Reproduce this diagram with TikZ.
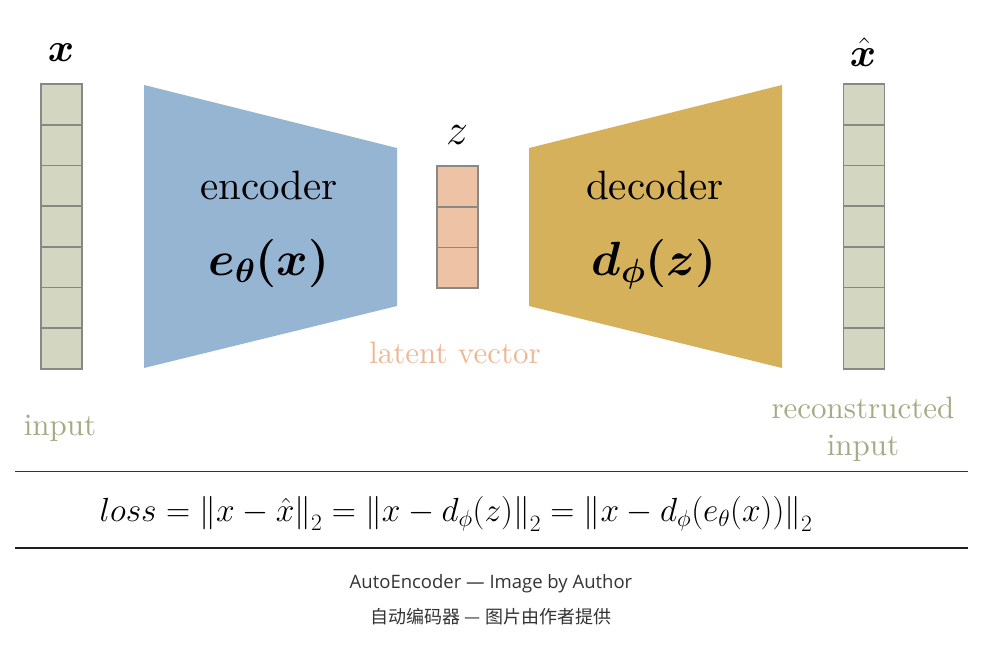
\RequirePackage{fix-cm}
\documentclass[tikz,border=0pt]{standalone}
\usepackage{amsmath,bm}
\usepackage{fontspec}
\setmainfont{lmroman10-regular.otf}[BoldFont=lmroman10-bold.otf, ItalicFont=lmroman10-italic.otf]
\newfontfamily\capfont{Open Sans}
\newfontfamily\cjk{Noto Sans CJK SC}
\definecolor{cellfill}{HTML}{D3D6C0}
\definecolor{cellline}{HTML}{888884}
\definecolor{encblue}{HTML}{95B5D3}
\definecolor{decgold}{HTML}{D6B15C}
\definecolor{latpeach}{HTML}{EEC2A5}
\definecolor{lattext}{HTML}{ECB896}
\definecolor{inptext}{HTML}{A4AB86}
\definecolor{captext}{HTML}{333333}
\tikzset{
  cell/.style={draw=cellline, line width=1.6pt, fill=cellfill, minimum width=41pt, minimum height=40.7pt, inner sep=0pt, outer sep=0pt},
  zcell/.style={cell, fill=latpeach},
  bigword/.style={font=\fontsize{41}{48}\selectfont, anchor=base, inner sep=0pt},
  bigmath/.style={font=\fontsize{48}{54}\selectfont, anchor=base, inner sep=0pt},
  lbl/.style={font=\fontsize{31}{37}\selectfont, anchor=base, inner sep=0pt},
  rule/.style={draw=black!80, line width=1.3pt},
}
\begin{document}
\begin{tikzpicture}[x=1pt,y=-1pt]
\useasboundingbox (0,0) rectangle (990,645);
% input and output columns
\foreach \i in {0,...,6} {
  \node[cell] (in\i) at (61.5, {84+40.7*\i+20.35}) {};
  \node[cell] (out\i) at (864, {84+40.7*\i+20.35}) {};
}
% latent column
\foreach \i in {0,...,2} {
  \node[zcell] (z\i) at (457.5, {166+40.7*\i+20.35}) {};
}
% encoder / decoder trapezoids
\fill[encblue] (144,85) -- (397,148) -- (397,306) -- (144,368) -- cycle;
\fill[decgold] (529,148) -- (782,85) -- (782,368) -- (529,306) -- cycle;
% labels
\node[font=\fontsize{40}{44}\selectfont, anchor=base, inner sep=0pt] (xlbl) at (61,61) {$\bm{x}$};
\node[font=\fontsize{40}{44}\selectfont, anchor=base, inner sep=0pt] (xhatlbl) at (863,66) {$\bm{\hat{x}}$};
\node[font=\fontsize{44}{48}\selectfont, anchor=base, inner sep=0pt] (zlbl) at (457,144) {$z$};
\node[bigword] (enc) at (269,199) {encoder};
\node[bigmath] (encf) at (269,275) {$\bm{e_{\theta}(x)}$};
\node[bigword] (dec) at (655,199) {decoder};
\node[bigmath] (decf) at (654,275) {$\bm{d_{\phi}(z)}$};
\node[lbl, text=lattext] (lat) at (455,363) {latent vector};
\node[lbl, text=inptext] (inp) at (60,435) {input};
\node[lbl, text=inptext] (rec1) at (863,418) {reconstructed};
\node[lbl, text=inptext] (rec2) at (863,455) {input};
% rules
\coordinate (r1a) at (15,471.5);
\coordinate (r1b) at (968,471.5);
\coordinate (r2a) at (15,548);
\coordinate (r2b) at (968,548);
\draw[rule] (r1a) -- (r1b);
\draw[rule, draw=black!88] (r2a) -- (r2b);
% loss
\node[font=\fontsize{33.5}{38}\selectfont, anchor=base, inner sep=0pt] (loss) at (456,521)
  {$loss = \left\|x-\hat{x}\right\|_2 = \left\|x-d_{\phi}(z)\right\|_2 = \left\|x-d_{\phi}(e_{\theta}(x))\right\|_2$};
% captions
\node[font=\capfont\fontsize{18.5}{22}\selectfont, text=captext, anchor=base, inner sep=0pt] (cap1) at (491,588) {AutoEncoder — Image by Author};
\node[font=\cjk\fontsize{18}{22}\selectfont, text=captext, anchor=base, inner sep=0pt] (cap2) at (491,623) {自动编码器 — 图片由作者提供};
\end{tikzpicture}
\end{document}
